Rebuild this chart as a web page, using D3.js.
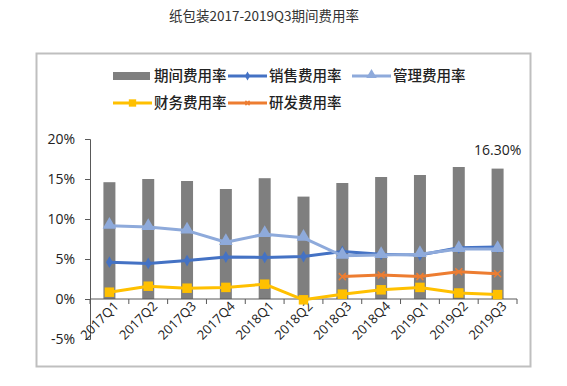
<!DOCTYPE html>
<html>
<head>
<meta charset="utf-8">
<script src="https://cdn.jsdelivr.net/npm/d3@7"></script>
<style>
  body { margin: 0; background: #fff; }
  svg { font-family: "Noto Sans CJK SC", "Noto Sans", sans-serif; }
</style>
</head>
<body>
<svg width="567" height="386"></svg>
<script>
var quarters = ["2017Q1","2017Q2","2017Q3","2017Q4","2018Q1","2018Q2","2018Q3","2018Q4","2019Q1","2019Q2","2019Q3"];
var periodRate = [14.6, 15.0, 14.75, 13.75, 15.1, 12.8, 14.5, 15.25, 15.5, 16.5, 16.3];
var salesRate  = [4.6, 4.45, 4.8, 5.25, 5.2, 5.3, 5.95, 5.6, 5.5, 6.4, 6.5];
var adminRate  = [9.15, 9.0, 8.55, 7.1, 8.1, 7.65, 5.4, 5.5, 5.6, 6.25, 6.25];
var financeRate = [0.85, 1.6, 1.35, 1.45, 1.85, -0.1, 0.6, 1.15, 1.45, 0.75, 0.55];
var rdRate     = [null, null, null, null, null, null, 2.8, 3.0, 2.8, 3.4, 3.15];
var yTicks = [-5, 0, 5, 10, 15, 20];

var svg = d3.select("svg");

svg.append("text")
    .attr("x", 264).attr("y", 21)
    .attr("text-anchor", "middle")
    .attr("font-size", 13.5)
    .attr("fill", "#333")
    .text("纸包装2017-2019Q3期间费用率");

svg.append("rect")
    .attr("x", 36.5).attr("y", 53.5)
    .attr("width", 494).attr("height", 313)
    .attr("fill", "none")
    .attr("stroke", "#bfbfbf")
    .attr("stroke-width", 2);

var x = d3.scaleBand().domain(quarters).range([90, 517]);
var y = d3.scaleLinear().domain([-5, 20]).range([339, 139]);

// bars
svg.selectAll(".bar")
    .data(periodRate)
    .enter().append("rect")
    .attr("class", "bar")
    .attr("x", function(d, i) { return x(quarters[i]) + x.bandwidth() / 2 - 6; })
    .attr("width", 12)
    .attr("y", function(d) { return y(d); })
    .attr("height", function(d) { return y(0) - y(d); })
    .attr("fill", "#7f7f7f");

// y axis
var yAxis = svg.append("g")
    .attr("transform", "translate(90,0)")
    .call(d3.axisLeft(y).tickValues(yTicks).tickSize(5).tickFormat(function(d) { return d + "%"; }));
yAxis.select(".domain").attr("stroke", "#595959");
yAxis.selectAll(".tick line").attr("stroke", "#595959");
yAxis.selectAll("text").attr("font-size", 14).attr("fill", "#222").attr("x", -15)
    .attr("font-family", "'Open Sans', 'Noto Sans', sans-serif");

// x axis at 0
var xAxis = svg.append("g")
    .attr("transform", "translate(0," + y(0) + ")");
xAxis.append("line")
    .attr("x1", 90).attr("x2", 517)
    .attr("stroke", "#595959");
xAxis.selectAll(".xt")
    .data(quarters.concat(["end"]))
    .enter().append("line")
    .attr("x1", function(d, i) { return 90 + i * x.step(); })
    .attr("x2", function(d, i) { return 90 + i * x.step(); })
    .attr("y1", 0).attr("y2", 5)
    .attr("stroke", "#595959");
svg.selectAll(".xl")
    .data(quarters)
    .enter().append("text")
    .attr("class", "xl")
    .attr("text-anchor", "end")
    .attr("font-size", 13)
    .attr("fill", "#222")
    .attr("font-family", "'Open Sans', 'Noto Sans', sans-serif")
    .attr("transform", function(d) { return "translate(" + (x(d) + x.bandwidth() / 2 + 10) + ",307) rotate(-45)"; })
    .text(function(d) { return d; });

var series = [
    {name: "销售费用率", values: salesRate, color: "#4472c4", marker: "diamond"},
    {name: "管理费用率", values: adminRate, color: "#8eaadb", marker: "triangle"},
    {name: "财务费用率", values: financeRate, color: "#ffc000", marker: "square"},
    {name: "研发费用率", values: rdRate, color: "#ed7d31", marker: "cross"}
];

function drawMarker(g, type, color, cx, cy, scale) {
    scale = scale || 1;
    if (type == "diamond") {
        g.append("path").attr("d", d3.symbol(d3.symbolDiamond, 40 * scale)())
            .attr("transform", "translate(" + cx + "," + cy + ")").attr("fill", color);
    } else if (type == "triangle") {
        g.append("path").attr("d", d3.symbol(d3.symbolTriangle, 80 * scale)())
            .attr("transform", "translate(" + cx + "," + (cy - 1) + ")").attr("fill", color);
    } else if (type == "square") {
        g.append("path").attr("d", d3.symbol(d3.symbolSquare, 90 * scale)())
            .attr("transform", "translate(" + cx + "," + cy + ")").attr("fill", color);
    } else {
        var r = 3.5 * scale;
        g.append("path").attr("d", "M" + (-r) + "," + (-r) + "L" + r + "," + r + "M" + (-r) + "," + r + "L" + r + "," + (-r))
            .attr("transform", "translate(" + cx + "," + cy + ")")
            .attr("stroke", color).attr("stroke-width", 1.5).attr("fill", "none");
    }
}

var line = d3.line()
    .defined(function(d) { return d != null; })
    .x(function(d, i) { return x(quarters[i]) + x.bandwidth() / 2; })
    .y(function(d) { return y(d); });

series.forEach(function(s) {
    svg.append("path")
        .datum(s.values)
        .attr("d", line)
        .attr("fill", "none")
        .attr("stroke", s.color)
        .attr("stroke-width", 3)
        .attr("stroke-linejoin", "round");
    var g = svg.append("g");
    s.values.forEach(function(v, i) {
        if (v == null) return;
        drawMarker(g, s.marker, s.color, x(quarters[i]) + x.bandwidth() / 2, y(v));
    });
});

// data label
svg.append("text")
    .attr("x", x("2019Q3") + x.bandwidth() / 2)
    .attr("y", y(periodRate[10]) - 14)
    .attr("text-anchor", "middle")
    .attr("font-size", 14)
    .attr("fill", "#222")
    .attr("font-family", "'Open Sans', 'Noto Sans', sans-serif")
    .text("16.30%");

// legend
var legendItems = [
    {name: "期间费用率", color: "#7f7f7f", marker: "bar", lx: 113, ly: 76},
    {name: "销售费用率", color: "#4472c4", marker: "diamond", lx: 228, ly: 76},
    {name: "管理费用率", color: "#8eaadb", marker: "triangle", lx: 352, ly: 76},
    {name: "财务费用率", color: "#ffc000", marker: "square", lx: 113, ly: 103},
    {name: "研发费用率", color: "#ed7d31", marker: "cross", lx: 228, ly: 103}
];
var legend = svg.append("g");
legendItems.forEach(function(it) {
    if (it.marker == "bar") {
        legend.append("rect").attr("x", it.lx).attr("y", it.ly - 4)
            .attr("width", 37).attr("height", 8).attr("fill", it.color);
    } else {
        legend.append("line").attr("x1", it.lx).attr("x2", it.lx + 39)
            .attr("y1", it.ly).attr("y2", it.ly)
            .attr("stroke", it.color).attr("stroke-width", 3);
        drawMarker(legend, it.marker, it.color, it.lx + 19.5, it.ly, 0.6);
    }
    legend.append("text")
        .attr("x", it.lx + 41).attr("y", it.ly + 5)
        .attr("font-size", 14.5)
        .attr("font-weight", 500)
        .attr("fill", "#222")
        .text(it.name);
});
</script>
</body>
</html>
